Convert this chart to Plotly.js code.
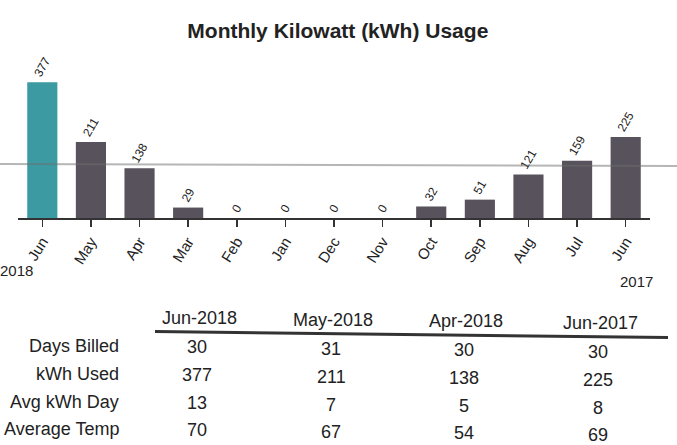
<!DOCTYPE html>
<html>
<head>
<meta charset="utf-8">
<script src="https://cdn.plot.ly/plotly-3.0.1.min.js"></script>
<style>html,body{margin:0;padding:0;background:#fff;}</style>
</head>
<body>
<div id="chart" style="width:677px;height:445px;"></div>
<script>
// ---- Data ----
const monthLabels = ['Jun','May','Apr','Mar','Feb','Jan','Dec','Nov','Oct','Sep','Aug','Jul','Jun'];
const kwhValues   = [377, 211, 138, 29, 0, 0, 0, 0, 32, 51, 121, 159, 225];
const yearStart = '2018';
const yearEnd   = '2017';

const tableColumns = ['Jun-2018','May-2018','Apr-2018','Jun-2017'];
const tableRowLabels = ['Days Billed','kWh Used','Avg kWh Day','Average Temp'];
const daysBilled = [30, 31, 30, 30];
const kwhUsed    = [377, 211, 138, 225];
const avgKwhDay  = [13, 7, 5, 8];
const avgTemp    = [70, 67, 54, 69];

// ---- Styling / geometry ----
const W = 677, H = 445;
const M = {l:18, r:27, t:60, b:227};
const plotW = W - M.l - M.r, plotH = H - M.t - M.b;
const px2x = px => (px - M.l) / plotW;
const py2y = py => (H - M.b - py) / plotH;
const FONT = 'Liberation Sans, Arial, sans-serif';
const TEAL = '#3c9ba2', GRAY = '#57525b', INK = '#222';

const xIdx = monthLabels.map((_, i) => i);
const barColors = kwhValues.map((_, i) => i === 0 ? TEAL : GRAY);

const trace = {
  type: 'bar',
  x: xIdx,
  y: kwhValues,
  marker: {color: barColors},
  text: kwhValues.map(String),
  texttemplate: '%{text}',
  textposition: 'outside',
  textangle: -60,
  textfont: {family: FONT, size: 12, color: INK},
  cliponaxis: false,
  hoverinfo: 'skip'
};

const annotations = [];
// year labels
annotations.push({xref:'paper', yref:'paper', x: px2x(16), y: py2y(270), text: yearStart,
  showarrow:false, font:{family:FONT, size:15, color:INK}, xanchor:'center', yanchor:'middle'});
annotations.push({xref:'paper', yref:'paper', x: px2x(636), y: py2y(281), text: yearEnd,
  showarrow:false, font:{family:FONT, size:15, color:INK}, xanchor:'center', yanchor:'middle'});

// table
const colX = [199, 333, 466, 600];
const rowY = [347, 375, 403, 430];
const headerY = 318;
const slope = 0.0125;
const tableFont = {family: FONT, size: 18, color: INK};
tableColumns.forEach((c, j) => {
  annotations.push({xref:'paper', yref:'paper', x: px2x(colX[j]), y: py2y(headerY + (colX[j]-199)*slope),
    text: c, showarrow:false, font: tableFont, xanchor:'center', yanchor:'middle'});
});
const rows = [daysBilled, kwhUsed, avgKwhDay, avgTemp];
tableRowLabels.forEach((lab, i) => {
  annotations.push({xref:'paper', yref:'paper', x: px2x(121), y: py2y(rowY[i] - 1),
    text: lab, showarrow:false, font: tableFont, xanchor:'right', yanchor:'middle'});
  rows[i].forEach((v, j) => {
    annotations.push({xref:'paper', yref:'paper', x: px2x(colX[j] - 2), y: py2y(rowY[i] + (colX[j]-199)*slope),
      text: String(v), showarrow:false, font: tableFont, xanchor:'center', yanchor:'middle'});
  });
});

const shapes = [
  // thick rule under table header
  {type:'line', xref:'paper', yref:'paper', x0: px2x(155), y0: py2y(331.5), x1: px2x(668), y1: py2y(337.5),
   line:{color:'#333', width:3}},
  // faint fold line from the scanned page
  {type:'line', xref:'paper', yref:'paper', x0: px2x(0), y0: py2y(164), x1: px2x(677), y1: py2y(166),
   line:{color:'rgba(110,110,110,0.5)', width:2}, layer:'above'}
];

const layout = {
  width: W, height: H,
  margin: M,
  paper_bgcolor: '#fff',
  plot_bgcolor: '#fff',
  showlegend: false,
  bargap: 0.38,
  title: {text: '<b>Monthly Kilowatt (kWh) Usage</b>', x: 0.499, xanchor: 'center',
          y: 1 - 31/H, yanchor: 'middle', font: {family: FONT, size: 21, color: INK}},
  xaxis: {
    range: [-0.5, 12.5],
    tickvals: xIdx, ticktext: monthLabels,
    tickangle: -58,
    ticks: 'outside', ticklen: 7, tickwidth: 1.5, tickcolor: '#333',
    showline: true, linecolor: '#333', linewidth: 2,
    showgrid: false, zeroline: false,
    tickfont: {family: FONT, size: 15, color: INK},
    fixedrange: true
  },
  yaxis: {range: [0, 439], visible: false, showgrid: false, zeroline: false, fixedrange: true},
  annotations: annotations,
  shapes: shapes
};

Plotly.newPlot('chart', [trace], layout, {displayModeBar: false, staticPlot: true});
</script>
</body>
</html>
